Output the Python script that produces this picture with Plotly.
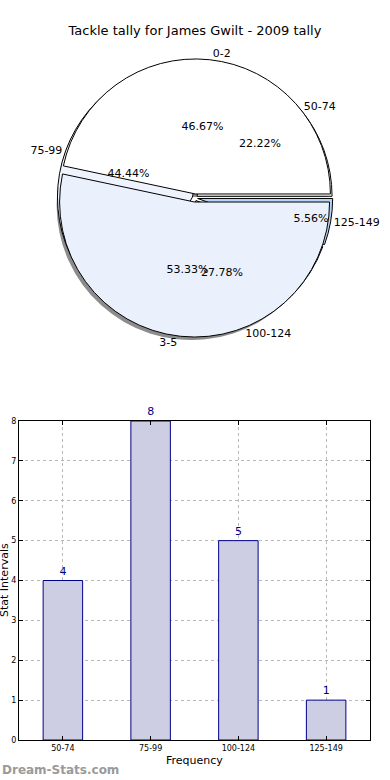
import plotly.graph_objects as go

# ---- data ----
inner_labels = ["0-2", "3-5"]
inner_values = [7, 8]
inner_colors = ["#ffffff", "#eaf1fc"]

outer_labels = ["50-74", "75-99", "100-124", "125-149"]
outer_values = [4, 8, 5, 1]
outer_colors = ["#ffffff", "#eef3fd", "#dde9fa", "#b5d3f7"]

bar_labels = ["50-74", "75-99", "100-124", "125-149"]
bar_values = [4, 8, 5, 1]

title_text = "Tackle tally for James Gwilt - 2009 tally"
FONT = "DejaVu Sans"

W, H = 390, 780


def px(x):
    return x / W


def py(y):
    return 1 - y / H


cx, cy, R = 195, 198, 135


def dom(pull, dx=0, dy=0):
    half = R * (1 + pull)
    return dict(x=[px(cx + dx - half), px(cx + dx + half)],
                y=[py(cy + dy + half), py(cy + dy - half)])


def start_rot(vals):
    # first slice starts at 3 o'clock and runs counter-clockwise
    return 90 - 360 * vals[0] / sum(vals)


pullA, pullB = 0.03, 0.02
common = dict(sort=False, direction="counterclockwise", hoverinfo="skip", showlegend=False)
clear = "rgba(0,0,0,0)"

fig = go.Figure()
# shadow
fig.add_trace(go.Pie(labels=inner_labels, values=inner_values, pull=pullA,
                     rotation=start_rot(inner_values),
                     domain=dom(pullA, -3, 3), textinfo="none",
                     marker=dict(colors=["rgba(0,0,0,0.45)"] * 2, line=dict(width=0)),
                     **common))
# outer (lower) pie
fig.add_trace(go.Pie(labels=outer_labels, values=outer_values, pull=pullB,
                     rotation=start_rot(outer_values),
                     domain=dom(pullB), textinfo="none",
                     marker=dict(colors=outer_colors, line=dict(color="#000000", width=1)),
                     **common))
# inner (upper) pie
fig.add_trace(go.Pie(labels=inner_labels, values=inner_values, pull=pullA,
                     rotation=start_rot(inner_values),
                     domain=dom(pullA), textinfo="none",
                     marker=dict(colors=inner_colors, line=dict(color="#000000", width=1)),
                     **common))
# text layers
for labs, vals, pull in [(outer_labels, outer_values, pullB), (inner_labels, inner_values, pullA)]:
    fig.add_trace(go.Pie(labels=labs, values=vals, pull=pull, domain=dom(pull),
                         rotation=start_rot(vals),
                         texttemplate="%{percent:.2%}", textposition="inside",
                         insidetextorientation="horizontal",
                         textfont=dict(family=FONT, size=11, color="#000000"),
                         marker=dict(colors=[clear] * len(vals), line=dict(width=0)),
                         **common))
    fig.add_trace(go.Pie(labels=labs, values=vals, pull=pull, domain=dom(pull),
                         rotation=start_rot(vals),
                         textinfo="label", textposition="outside",
                         outsidetextfont=dict(family=FONT, size=11, color="#000000"),
                         marker=dict(colors=[clear] * len(vals), line=dict(width=0)),
                         **common))

# bar chart
fig.add_trace(go.Bar(x=bar_labels, y=bar_values, width=0.45,
                     marker=dict(color="#cdcde4", line=dict(color="#00008b", width=1)),
                     text=bar_values, textposition="outside", cliponaxis=False,
                     textfont=dict(family=FONT, size=11, color="#00008b"),
                     hoverinfo="skip", showlegend=False, xaxis="x", yaxis="y"))

axis_common = dict(showline=True, linecolor="#000000", linewidth=1, mirror="allticks",
                   ticks="inside", ticklen=4, tickcolor="#000000",
                   showgrid=True, gridcolor="#b8b8b8", griddash="dot", gridwidth=1,
                   zeroline=False, tickfont=dict(family=FONT, size=8, color="#000000"),
                   automargin=False)

fig.update_layout(
    width=W, height=H,
    margin=dict(l=0, r=0, t=0, b=0),
    paper_bgcolor="#ffffff", plot_bgcolor="#ffffff",
    font=dict(family=FONT, color="#000000"),
    title=dict(text=title_text, x=px(195), xanchor="center", y=py(30), yanchor="middle",
               yref="container", font=dict(family=FONT, size=13, color="#000000")),
    xaxis=dict(domain=[px(19), px(370)], range=[-0.5, 3.5], **axis_common),
    yaxis=dict(domain=[py(740), py(421)], range=[0, 8], dtick=1, **axis_common),
    annotations=[
        dict(text="Frequency", x=px(194), y=py(760), xref="paper", yref="paper",
             xanchor="center", yanchor="middle", showarrow=False,
             font=dict(family=FONT, size=11, color="#000000")),
        dict(text="Stat Intervals", x=px(4), y=py(580), xref="paper", yref="paper",
             xanchor="center", yanchor="middle", showarrow=False, textangle=-90,
             font=dict(family=FONT, size=11, color="#000000")),
        dict(text="<b>Dream-Stats.com</b>", x=px(0), y=py(770), xref="paper",
             yref="paper", xanchor="left", yanchor="middle", showarrow=False,
             font=dict(family=FONT, size=12, color="#9a9a9a")),
    ],
)

fig.write_html("out.html", config={"displayModeBar": False},
               post_script="document.body.style.margin='0';document.body.style.overflow='hidden';")
